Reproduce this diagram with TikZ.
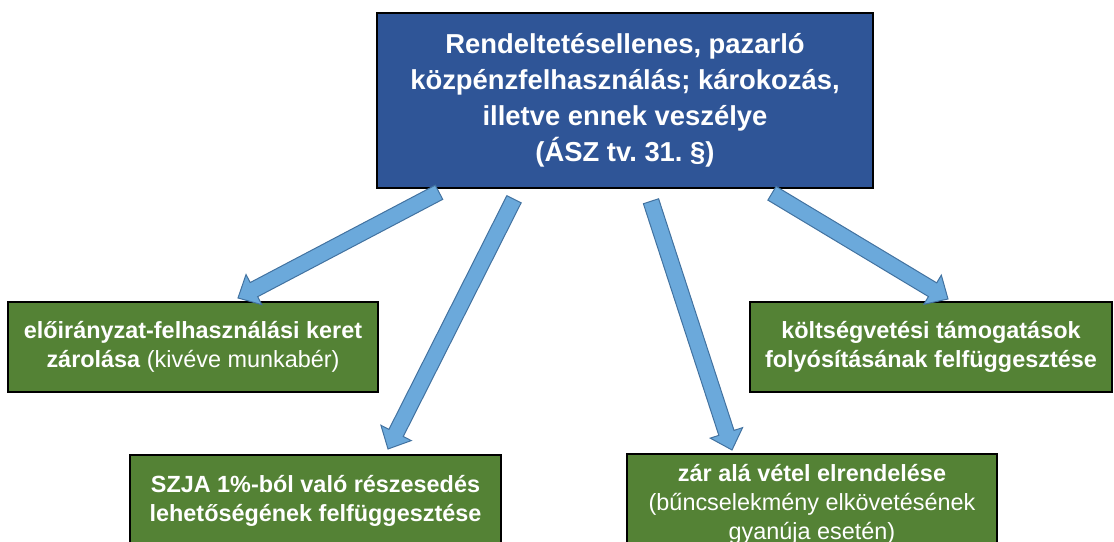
\documentclass[tikz,border=0pt]{standalone}
\usepackage{fontspec}
\setmainfont{Liberation Sans}
\usetikzlibrary{calc}
\definecolor{kek}{RGB}{47,85,151}
\definecolor{zold}{RGB}{84,130,53}
\frenchspacing

\begin{document}
\begin{tikzpicture}[x=1bp, y=-1bp,
	fobox/.style={draw=black, line width=2.5bp, fill=kek, text=white, align=center, inner sep=0pt,
		minimum width=496bp, minimum height=175bp, font={\fontsize{27.5}{36}\selectfont\bfseries}},
	zoldbox/.style={draw=black, line width=2bp, fill=zold, text=white, align=center, inner sep=0pt,
		font={\fontsize{23.5}{29}\selectfont}},
	nyilstil/.style={fill=nyilkek, draw=nyilszel, line width=1bp, line join=miter}]

		\xdefinecolor{nyilkek}{RGB}{107,169,219}
		\xdefinecolor{nyilszel}{RGB}{66,114,160}

		\useasboundingbox (0,0) rectangle (1114,542);
		\clip (0,0) rectangle (1114,542);

		\newcommand{\nyil}[2]{
			%a fej alapja
			\coordinate (h) at ($(#2)!18bp!(#1)$);
			%a nyil teste
			\filldraw[nyilstil] ($(#1)!8bp!90:(#2)$) -- ($(h)!8bp!90:(#2)$) -- ($(h)!17bp!90:(#2)$)
				-- (#2) -- ($(h)!17bp!-90:(#2)$) -- ($(h)!8bp!-90:(#2)$) -- ($(#1)!8bp!-90:(#2)$) -- cycle;
		}

		%dobozok
		\node[fobox] (fo) at (625,100.5) {Rendeltetésellenes, pazarló\\közpénzfelhasználás; károkozás,\\illetve ennek veszélye\\(ÁSZ tv. 31. §)};
		\node[zoldbox, minimum width=370bp, minimum height=90bp] (bal) at (193,347)
			{\textbf{előirányzat-felhasználási keret}\\\textbf{zárolása} (kivéve munkabér)};
		\node[zoldbox, minimum width=362bp, minimum height=90bp] (jobb) at (931,347)
			{\textbf{költségvetési támogatások}\\\textbf{folyósításának felfüggesztése}};
		\node[zoldbox, minimum width=371bp, minimum height=92bp] (balalso) at (315.5,501)
			{\textbf{SZJA 1\%-ból való részesedés}\\\textbf{lehetőségének felfüggesztése}};
		\node[zoldbox, minimum width=370bp, minimum height=100bp] (jobbalso) at (812,504)
			{\textbf{zár alá vétel elrendelése}\\(bűncselekmény elkövetésének\\gyanúja esetén)};

		%nyilak vegpontjai
		\coordinate (t1) at ($(fo.south)+(-186,3)$);
		\coordinate (p1) at ($(bal.north)+(45,-3)$);
		\coordinate (t2) at ($(fo.south)+(-111,10)$);
		\coordinate (p2) at ($(balalso.north)+(72.5,-5)$);
		\coordinate (t3) at ($(fo.south)+(26,12)$);
		\coordinate (p3) at ($(jobbalso.north)+(-80,-3)$);
		\coordinate (t4) at ($(fo.south)+(147,4)$);
		\coordinate (p4) at ($(jobb.north)+(17,-2)$);

		\nyil{t1}{p1}
		\nyil{t2}{p2}
		\nyil{t3}{p3}
		\nyil{t4}{p4}

\end{tikzpicture}
\end{document}
